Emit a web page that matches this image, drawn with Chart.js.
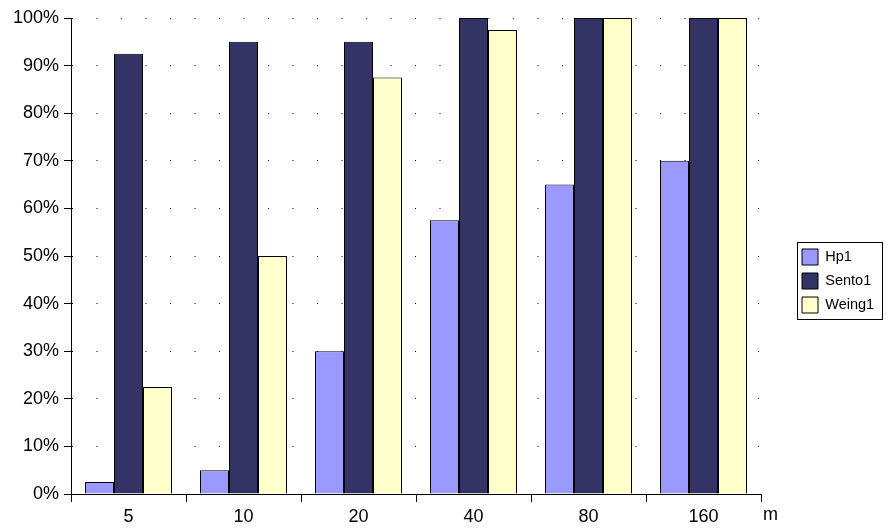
<!DOCTYPE html>
<html>
<head>
<meta charset="utf-8">
<script src="https://cdn.jsdelivr.net/npm/chart.js@4.4.1/dist/chart.umd.min.js"></script>
<style>
	html, body { margin: 0; padding: 0; background: #fff; }
	#wrap { width: 889px; height: 532px; position: relative; }
</style>
</head>
<body>
<div id="wrap"><canvas id="chart"></canvas></div>
<script type="text/javascript">
	let categories = ["5", "10", "20", "40", "80", "160"]
	let hp1 = [2.5, 5, 30, 57.5, 65, 70]
	let sento1 = [92.5, 95, 95, 100, 100, 100]
	let weing1 = [22.5, 50, 87.5, 97.5, 100, 100]
	let seriesNames = ["Hp1", "Sento1", "Weing1"]
	let unitLabel = "m"

	let font = "'Liberation Sans', Arial, sans-serif"
	let colors = {
		hp: "#9999ff",
		sento: "#333366",
		weing: "#ffffcc",
	}

	// legend placement, boxed like the old excel one
	let legendPlugin = {
		id: "legendBox",
		beforeLayout: function(chart) {
			let lg = chart.legend
			if(lg && !lg._patched) {
				let fit = lg.fit.bind(lg)
				lg.fit = function() {
					fit()
					this.width = 128
				}
				lg._patched = true
			}
		},
		afterLayout: function(chart) {
			let lg = chart.legend
			let pad = lg.options.labels.padding
			let w = lg.width, h = lg.height
			lg.left = 802 - pad
			lg.right = lg.left + w
			lg.top = 249 - pad
			lg.bottom = lg.top + h
		},
		afterDraw: function(chart) {
			let ctx = chart.ctx
			let lg = chart.legend
			let boxes = lg.legendHitBoxes
			if(!boxes || !boxes.length) return
			let left = Math.min.apply(null, boxes.map(b => b.left))
			let right = Math.max.apply(null, boxes.map(b => b.left + b.width))
			let top = boxes[0].top
			let last = boxes[boxes.length - 1]
			let bottom = last.top + last.height
			ctx.save()
			ctx.strokeStyle = "#000"
			ctx.lineWidth = 1
			ctx.strokeRect(Math.round(left - 5) + 0.5, Math.round(top - 7) + 0.5,
				Math.round(right - left + 13), Math.round(bottom - top + 13))
			// unit label after the last category
			let x = chart.scales.x
			ctx.fillStyle = "#000"
			ctx.font = "18px " + font
			ctx.textAlign = "left"
			ctx.textBaseline = "top"
			ctx.fillText(unitLabel, 763, x.top + 12)
			ctx.restore()
		},
	}

	let elem = document.querySelector("#chart")
	let chart = new Chart(elem, {
		type: "bar",
		data: {
			labels: categories,
			datasets: [{
				label: seriesNames[0],
				data: hp1,
				backgroundColor: colors.hp,
				borderColor: "#000",
				borderWidth: 1,
			}, {
				label: seriesNames[1],
				data: sento1,
				backgroundColor: colors.sento,
				borderColor: "#000",
				borderWidth: 1,
			}, {
				label: seriesNames[2],
				data: weing1,
				backgroundColor: colors.weing,
				borderColor: "#000",
				borderWidth: 1,
			}],
		},
		options: {
			responsive: true,
			maintainAspectRatio: false,
			animation: false,
			devicePixelRatio: 1,
			datasets: {
				bar: {
					barThickness: 29,
					inflateAmount: 0,
				},
			},
			layout: {
				padding: { left: 0, right: 0, top: 18, bottom: 0 },
			},
			plugins: {
				tooltip: { enabled: false },
				legend: {
					position: "right",
					align: "start",
					labels: {
						boxWidth: 16,
						boxHeight: 16,
						padding: 8,
						color: "#000",
						font: { family: font, size: 14.5 },
					},
				},
			},
			scales: {
				x: {
					afterFit: function(scale) { scale.height = 38 },
					grid: {
						offset: true,
						drawOnChartArea: false,
						drawTicks: true,
						tickLength: 8,
						tickColor: "#000",
						color: "#000",
					},
					border: { color: "#000", width: 1 },
					ticks: {
						color: "#000",
						padding: 4,
						font: { family: font, size: 18 },
					},
				},
				y: {
					min: 0,
					max: 100,
					afterFit: function(scale) { scale.width = 71 },
					grid: {
						color: "#000",
						tickColor: "#000",
						tickLength: 7,
						tickBorderDash: [],
					},
					border: { color: "#000", width: 1, dash: [1, 23.5], dashOffset: 0 },
					ticks: {
						stepSize: 10,
						color: "#000",
						padding: 5,
						font: { family: font, size: 18 },
						callback: function(v) { return v + "%" },
					},
				},
			},
		},
		plugins: [legendPlugin],
	})
</script>
</body>
</html>
